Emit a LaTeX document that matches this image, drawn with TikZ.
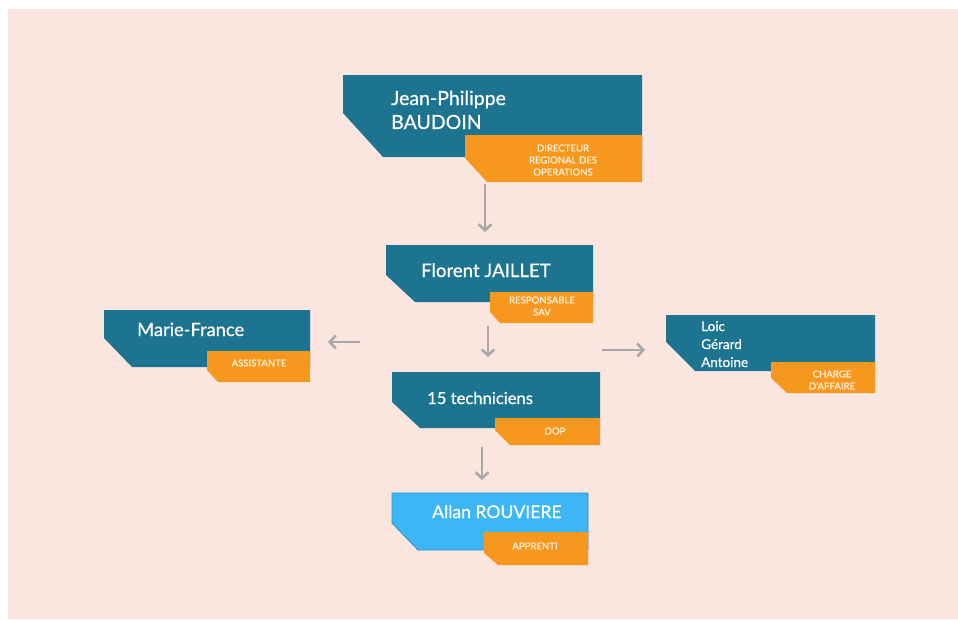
\documentclass[tikz,border=0pt]{standalone}
\usepackage{fontspec}
\setmainfont{Lato}[FakeBold=0.6]
\usetikzlibrary{arrows.meta}
\definecolor{bgpink}{HTML}{FAE6DF}
\definecolor{tealbox}{HTML}{1D7490}
\definecolor{orangetag}{HTML}{F7981E}
\definecolor{skyblue}{HTML}{3CB6F5}
\definecolor{skyborder}{HTML}{2A8FC8}
\definecolor{arrowgray}{HTML}{A8A8A8}
\definecolor{tagtext}{HTML}{FFF3E3}
\begin{document}
\begin{tikzpicture}[x=1pt,y=-1pt,
  namebox/.style={fill=tealbox},
  appbox/.style={fill=skyblue,draw=skyborder,line width=0.8pt},
  tagbox/.style={fill=orangetag},
  nametext/.style={text=white,anchor=base west,inner sep=0pt},
  tagtext/.style={text=tagtext,align=center,inner sep=0pt,font=\fontsize{9.6}{12}\selectfont},
  arr/.style={draw=arrowgray,line width=2.6pt,-{Straight Barb[length=6pt,width=13pt,line width=2.6pt]}}]
\useasboundingbox (0,0) rectangle (958,619);
\fill[white] (0,0) rectangle (958,619);
\fill[bgpink] (8,9) rectangle (958,619);

% Box 1: Jean-Philippe BAUDOIN
\fill[namebox] (343,75) -- (642,75) -- (642,157) -- (383,157) -- (343,113) -- cycle;
\fill[tagbox] (465,135) -- (642,135) -- (642,182) -- (487,182) -- (465,158) -- cycle;
\node[nametext,font=\fontsize{19.5}{24}\selectfont] (jp1) at (391,105) {Jean-Philippe};
\node[nametext,font=\fontsize{19.5}{24}\selectfont] (jp2) at (391,129) {BAUDOIN};
\node[tagtext] (jpt) at (563,160) {DIRECTEUR\\REGIONAL DES\\OPERATIONS};

% Box 2: Florent JAILLET
\fill[namebox] (386,245) -- (593,245) -- (593,302) -- (415,302) -- (386,275) -- cycle;
\fill[tagbox] (490,292) -- (593,292) -- (593,323) -- (500,323) -- (490,312) -- cycle;
\node[nametext,font=\fontsize{18.6}{23}\selectfont] (fj) at (421,277) {Florent JAILLET};
\node[tagtext] (fjt) at (542,306) {RESPONSABLE\\SAV};

% Box 3: Marie-France
\fill[namebox] (104,310) -- (310,310) -- (310,367) -- (132,367) -- (104,338) -- cycle;
\fill[tagbox] (207,351) -- (310,351) -- (310,382) -- (218,382) -- (207,370) -- cycle;
\node[nametext,font=\fontsize{18.3}{21}\selectfont] (mf) at (137,336) {Marie-France};
\node[tagtext] (mft) at (259,363) {ASSISTANTE};

% Box 4: Loic Gerard Antoine
\fill[namebox] (666,315) -- (875,315) -- (875,371) -- (695,371) -- (666,342) -- cycle;
\fill[tagbox] (771,362) -- (875,362) -- (875,393) -- (787,393) -- (771,378) -- cycle;
\node[nametext,font=\fontsize{13.5}{18}\selectfont] (lg1) at (701,331) {Loic};
\node[nametext,font=\fontsize{13.5}{18}\selectfont] (lg2) at (701,349) {Gérard};
\node[nametext,font=\fontsize{13.5}{18}\selectfont] (lg3) at (701,367) {Antoine};
\node[tagtext] (lgt) at (832,380) {CHARGE\\D'AFFAIRE};

% Box 5: 15 techniciens
\fill[namebox] (392,372) -- (600,372) -- (600,428) -- (420,428) -- (392,402) -- cycle;
\fill[tagbox] (495,418) -- (600,418) -- (600,445) -- (510,445) -- (495,430) -- cycle;
\node[nametext,font=\fontsize{16.6}{20}\selectfont] (tc) at (427,404) {15 techniciens};
\node[tagtext] (tct) at (555,431) {DOP};

% Box 6: Allan ROUVIERE
\filldraw[appbox] (392,493) -- (588,493) -- (588,550) -- (418,550) -- (392,523) -- cycle;
\fill[tagbox] (484,532) -- (588,532) -- (588,565) -- (498,565) -- (484,553) -- cycle;
\node[nametext,font=\fontsize{17.6}{21}\selectfont] (ar) at (432,518) {Allan ROUVIERE};
\node[tagtext] (art) at (535,546) {APPRENTI};

% Arrows
\coordinate (a1s) at (485,184);
\coordinate (a1e) at (485,232);
\coordinate (a2s) at (488,326);
\coordinate (a2e) at (488,357);
\coordinate (a3s) at (482,447);
\coordinate (a3e) at (482,480);
\coordinate (a4s) at (360,342);
\coordinate (a4e) at (328,342);
\coordinate (a5s) at (602,350);
\coordinate (a5e) at (645,350);
\draw[arr] (a1s) -- (a1e);
\draw[arr] (a2s) -- (a2e);
\draw[arr] (a3s) -- (a3e);
\draw[arr] (a4s) -- (a4e);
\draw[arr] (a5s) -- (a5e);
\end{tikzpicture}
\end{document}
